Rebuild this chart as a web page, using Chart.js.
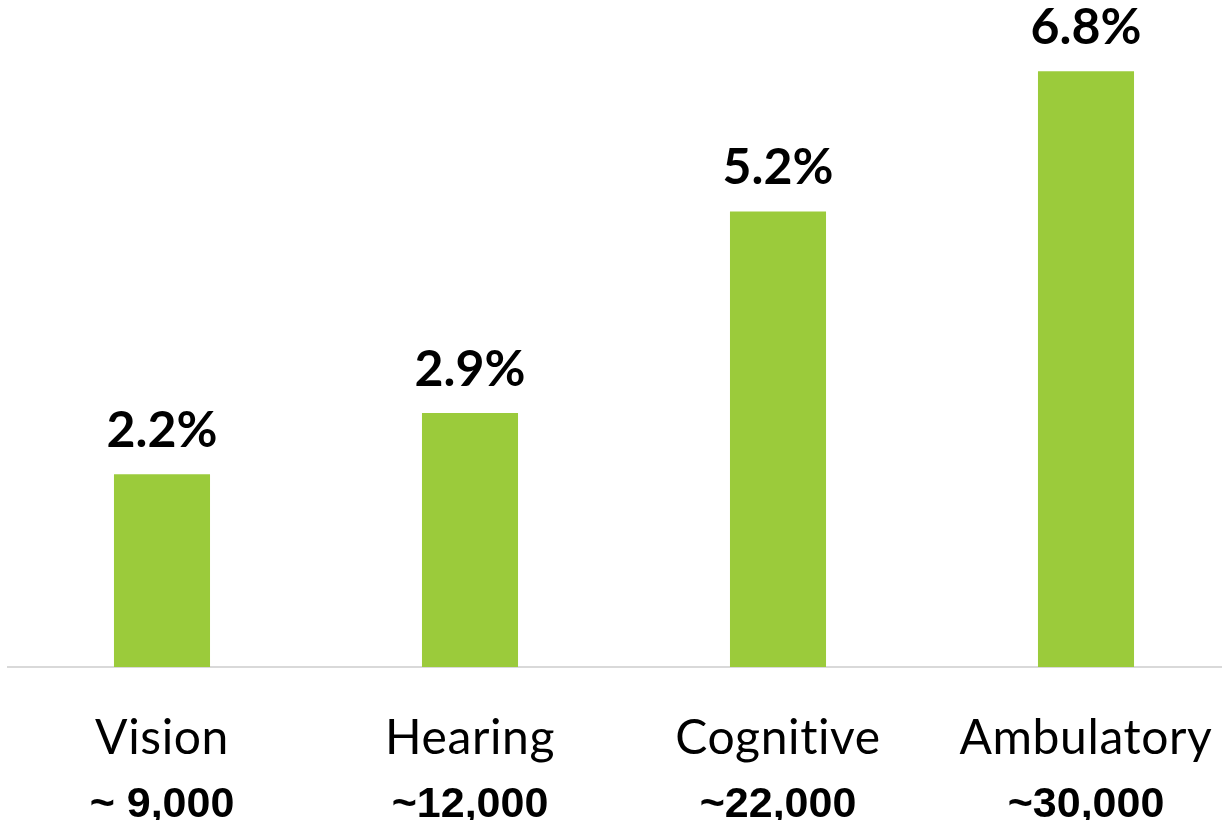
<!DOCTYPE html>
<html>
<head>
<meta charset="utf-8">
<script src="https://cdn.jsdelivr.net/npm/chart.js@4/dist/chart.umd.min.js"></script>
<style>
  html, body { margin: 0; padding: 0; background: #fff; overflow: hidden; }
  #wrap { width: 1222px; height: 820px; overflow: hidden; }
</style>
</head>
<body>
<div id="wrap"><canvas id="chart" width="1240" height="820"></canvas></div>
<script>
const categories = ['Vision', 'Hearing', 'Cognitive', 'Ambulatory'];
const counts = ['~ 9,000', '~12,000', '~22,000', '~30,000'];
const percents = [2.2, 2.9, 5.2, 6.8];

const labelFont = 'Lato, "Open Sans", sans-serif';

// value labels above the bars and two-line category labels below the axis
const labelsPlugin = {
    id: 'barLabels',
    afterDatasetsDraw(chart) {
        const { ctx, scales: { x } } = chart;
        const meta = chart.getDatasetMeta(0);
        ctx.save();
        ctx.fillStyle = '#000';
        ctx.textAlign = 'center';
        ctx.textBaseline = 'alphabetic';
        meta.data.forEach((bar, i) => {
            ctx.letterSpacing = '0px';
            ctx.font = `bold 50px ${labelFont}`;
            ctx.fillText(percents[i].toFixed(1) + '%', bar.x, bar.y - 27);

            const cx = x.getPixelForValue(i);
            ctx.font = `48px ${labelFont}`;
            ctx.letterSpacing = '0.6px';
            ctx.fillText(categories[i], cx, 754);
            ctx.letterSpacing = '0px';
            ctx.font = 'bold 43px "Liberation Sans", Arial, sans-serif';
            ctx.fillText(counts[i], cx, 817);
        });
        ctx.restore();
    }
};

new Chart(document.getElementById('chart').getContext('2d'), {
    type: 'bar',
    data: {
        labels: categories,
        datasets: [{
            data: percents,
            backgroundColor: '#9BCB3B',
            barPercentage: 0.62,
            categoryPercentage: 0.503
        }]
    },
    options: {
        responsive: false,
        animation: false,
        layout: { padding: { top: 10, bottom: 153, left: 8, right: 0 } },
        plugins: { legend: { display: false }, tooltip: { enabled: false } },
        scales: {
            x: {
                ticks: { display: false },
                grid: { display: false, drawTicks: false },
                border: { display: true, color: '#d9d9d9', width: 2 }
            },
            y: { display: false, min: 0, max: 7.5 }
        }
    },
    plugins: [labelsPlugin]
});
</script>
</body>
</html>
